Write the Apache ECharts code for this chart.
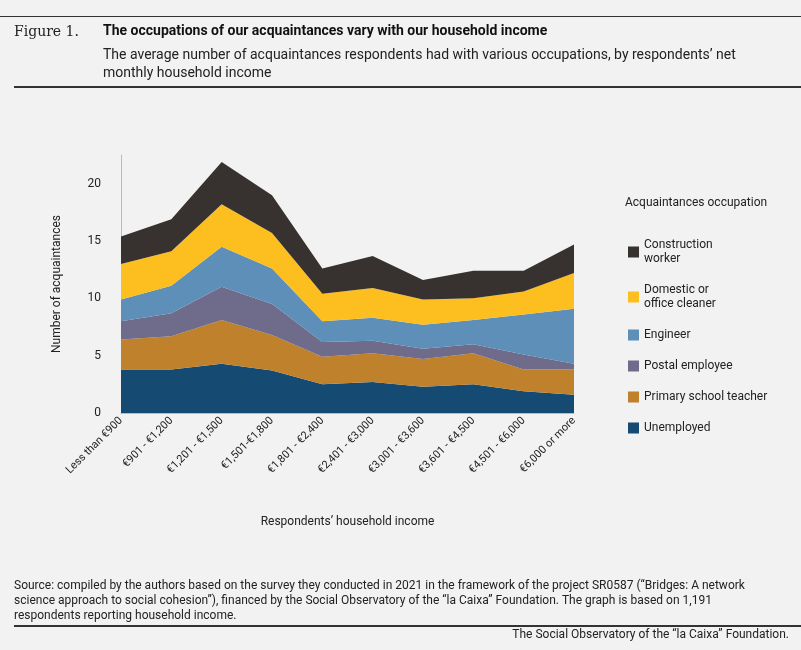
<!DOCTYPE html>
<html><head><meta charset="utf-8">
<script src="https://cdn.jsdelivr.net/npm/echarts@6/dist/echarts.min.js"></script>
<style>body{margin:0;background:#f2f2f2}#c{width:801px;height:650px}</style>
</head><body><div id="c"></div>
<script>
var categories = ['Less than €900','€901 - €1,200','€1,201 - €1,500','€1,501-€1,800','€1,801 - €2,400','€2,401 - €3,000','€3,001 - €3,600','€3,601 - €4,500','€4,501 - €6,000','€6,000 or more'];
var unemployed   = [3.8, 3.8, 4.3, 3.7, 2.5, 2.7, 2.3, 2.5, 1.9, 1.6];
var teacher      = [2.6, 2.9, 3.8, 3.1, 2.4, 2.5, 2.4, 2.7, 1.9, 2.2];
var postal       = [1.6, 2.0, 2.9, 2.7, 1.3, 1.1, 0.9, 0.8, 1.3, 0.5];
var engineer     = [1.9, 2.4, 3.5, 3.1, 1.8, 2.0, 2.1, 2.1, 3.5, 4.8];
var cleaner      = [3.1, 3.0, 3.7, 3.1, 2.4, 2.6, 2.2, 1.9, 2.0, 3.1];
var construction = [2.4, 2.8, 3.7, 3.3, 2.2, 2.8, 1.7, 2.4, 1.8, 2.5];
var yTicks = [0, 5, 10, 15, 20];

var font = 'Roboto, "Liberation Sans", sans-serif';
var series = [
  ['Unemployed', unemployed, '#154a72'],
  ['Primary school teacher', teacher, '#bf812c'],
  ['Postal employee', postal, '#6f6b8b'],
  ['Engineer', engineer, '#5d8fb9'],
  ['Domestic or\noffice cleaner', cleaner, '#fcbf1f'],
  ['Construction\nworker', construction, '#37322f']
].map(function (s) {
  return {name: s[0], type: 'line', stack: 'a', data: s[1], symbol: 'none',
    lineStyle: {width: 0}, areaStyle: {color: s[2], opacity: 1}, itemStyle: {color: s[2]}};
});

var chart = echarts.init(document.getElementById('c'));
chart.setOption({
  backgroundColor: '#f2f2f2',
  animation: false,
  textStyle: {fontFamily: font},
  grid: {left: 121, right: 227, top: 155, bottom: 237},
  xAxis: {type: 'category', data: categories, boundaryGap: false,
    name: 'Respondents’ household income', nameLocation: 'middle', nameGap: 103,
    nameTextStyle: {fontSize: 12, color: '#222'},
    axisLine: {lineStyle: {color: '#bbb'}}, axisTick: {show: false},
    axisLabel: {rotate: 45, fontSize: 11, color: '#222', margin: 6}},
  yAxis: {type: 'value', min: 0, max: 22.5, interval: 5,
    name: 'Number of acquaintances', nameLocation: 'middle', nameGap: 58, nameRotate: 90,
    nameTextStyle: {fontSize: 12, color: '#222'},
    axisLine: {show: true, lineStyle: {color: '#bbb'}}, axisTick: {show: false},
    splitLine: {show: false},
    axisLabel: {fontSize: 12, color: '#222', margin: 20,
      formatter: function (v) { return yTicks.indexOf(v) >= 0 ? v : ''; }}},
  legend: {orient: 'vertical', left: 623, top: 233, itemWidth: 11, itemHeight: 11, itemGap: 17,
    icon: 'rect', textStyle: {fontSize: 12, color: '#222', lineHeight: 14},
    data: ['Construction\nworker', 'Domestic or\noffice cleaner', 'Engineer', 'Postal employee', 'Primary school teacher', 'Unemployed']},
  graphic: [
    {type: 'rect', shape: {x: 0, y: 16, width: 801, height: 1}, style: {fill: '#333'}},
    {type: 'text', left: 14, top: 25, style: {text: 'Figure 1.', font: '14px "DejaVu Serif", serif', fill: '#222'}},
    {type: 'text', left: 103, top: 24, style: {text: 'The occupations of our acquaintances vary with our household income', font: 'bold 14px ' + font, fill: '#111'}},
    {type: 'text', left: 103, top: 46, style: {text: 'The average number of acquaintances respondents had with various occupations, by respondents’ net\nmonthly household income', font: '14px ' + font, fill: '#222', lineHeight: 18}},
    {type: 'rect', shape: {x: 14, y: 86, width: 787, height: 2}, style: {fill: '#333'}},
    {type: 'text', left: 625, top: 197, style: {text: 'Acquaintances occupation', font: '12px ' + font, fill: '#222'}},
    {type: 'text', left: 14, top: 578, style: {text: 'Source: compiled by the authors based on the survey they conducted in 2021 in the framework of the project SR0587 (“Bridges: A network\nscience approach to social cohesion”), financed by the Social Observatory of the “la Caixa” Foundation. The graph is based on 1,191\nrespondents reporting household income.', font: '12px ' + font, fill: '#222', lineHeight: 15}},
    {type: 'rect', shape: {x: 14, y: 625, width: 787, height: 2}, style: {fill: '#333'}},
    {type: 'text', right: 12, top: 629, style: {text: 'The Social Observatory of the “la Caixa” Foundation.', font: '12px ' + font, fill: '#222'}}
  ],
  series: series
});
</script></body></html>
